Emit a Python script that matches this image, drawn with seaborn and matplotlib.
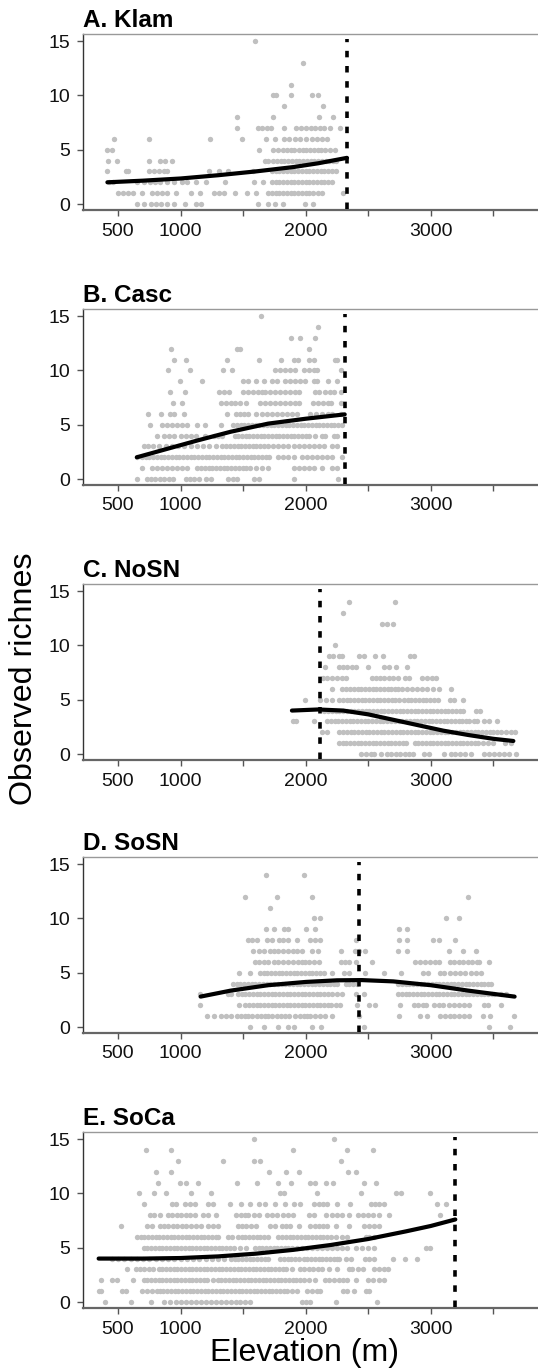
import matplotlib
matplotlib.use("Agg")
import matplotlib.pyplot as plt
import seaborn as sns
import pandas as pd
from matplotlib.transforms import Bbox, TransformedBbox

# observed richness -> elevations (m) of the sites
klam_pts = [
    (15, [1593]),
    (13, [1976]),
    (11, [1881]),
    (10, [1741, 1760, 1884, 2051, 2097]),
    (9, [1825, 2137]),
    (8, [1447, 1741, 2108, 2215]),
    (7, [1449, 1618, 1652, 1688, 1722, 1826, 1922, 1961, 2000, 2039, 2078, 2117, 2143, 2195, 2273]),
    (6, [471, 747, 1233, 1488, 1683, 1751, 1829, 1870, 1912, 1953, 2000, 2052, 2091, 2130, 2174]),
    (5, [414, 453, 1628, 1740, 1779, 1818, 1850, 1880, 1910, 1945, 1975, 2005, 2035, 2065, 2095, 2125,
         2156, 2195, 2234]),
    (4, [421, 488, 744, 833, 879, 933, 1674, 1701, 1741, 1770, 1800, 1830, 1860, 1890, 1920, 1950, 1980,
         2010, 2040, 2070, 2100, 2130, 2160, 2190, 2220, 2240]),
    (3, [415, 563, 582, 744, 784, 830, 865, 892, 1229, 1310, 1377, 1579, 1728, 1760, 1790, 1820, 1850,
         1880, 1910, 1940, 1970, 2000, 2030, 2060, 2090, 2120, 2150, 2180, 2210, 2240]),
    (2, [430, 460, 650, 704, 752, 792, 833, 892, 946, 1013, 1049, 1121, 1202, 1358, 1585, 1660, 1728,
         1760, 1790, 1820, 1850, 1880, 1910, 1940, 1970, 2000, 2030, 2060, 2090, 2120, 2150, 2180, 2213]),
    (1, [501, 542, 582, 623, 690, 771, 811, 852, 892, 960, 1081, 1154, 1269, 1310, 1350, 1431, 1534,
         1601, 1701, 1730, 1760, 1790, 1820, 1850, 1880, 1910, 1940, 1970, 2000, 2030, 2060, 2100, 2132,
         2299]),
    (0, [655, 709, 763, 806, 846, 892, 946, 1035, 1121, 1162, 1620, 1701, 1755, 1822, 1992, 2057]),
]

casc_pts = [
    (15, [1641]),
    (14, [2100]),
    (13, [1884, 1951, 2073]),
    (12, [927, 1453, 1472, 2029]),
    (11, [946, 1046, 1372, 1628, 1800, 1903, 1938, 2029, 2065, 2234, 2253]),
    (10, [900, 1073, 1337, 1412, 1755, 1795, 1835, 1876, 1911, 1984, 2024, 2065, 2091, 2280]),
    (9, [992, 1175, 1499, 1539, 1606, 1666, 1733, 1768, 1835, 1876, 1916, 1957, 1997, 2065, 2091, 2180,
         2253]),
    (8, [913, 1035, 1310, 1350, 1391, 1499, 1539, 1579, 1620, 1647, 1674, 1714, 1755, 1795, 1835, 1876,
         1916, 1943, 2073, 2110, 2153, 2194, 2226, 2280]),
    (7, [938, 1013, 1323, 1364, 1404, 1431, 1472, 1526, 1633, 1674, 1714, 1755, 1795, 1835, 1876, 1916,
         1943, 2059, 2100, 2140, 2180, 2200, 2280]),
    (6, [739, 846, 913, 946, 1027, 1372, 1439, 1472, 1507, 1539, 1606, 1647, 1687, 1728, 1768, 1808, 1849,
         1889, 1930, 2038, 2083, 2132, 2180, 2213, 2280]),
    (5, [752, 852, 892, 933, 973, 1013, 1054, 1135, 1194, 1323, 1418, 1450, 1480, 1510, 1540, 1570, 1600,
         1630, 1660, 1690, 1720, 1750, 1780, 1810, 1840, 1870, 1900, 1930, 1960, 1990, 2020, 2050, 2080,
         2110, 2140, 2170, 2200, 2230, 2260, 2294]),
    (4, [811, 865, 906, 946, 1000, 1040, 1081, 1121, 1194, 1269, 1300, 1330, 1431, 1460, 1490, 1520, 1550,
         1580, 1610, 1640, 1670, 1700, 1730, 1760, 1790, 1820, 1850, 1880, 1910, 1940, 1970, 2000, 2030,
         2078, 2132, 2153, 2226, 2253]),
    (3, [704, 739, 780, 830, 880, 930, 980, 1030, 1080, 1130, 1180, 1230, 1280, 1330, 1364, 1395, 1425,
         1455, 1485, 1515, 1545, 1575, 1605, 1635, 1665, 1695, 1741, 1781, 1822, 1862, 1903, 1943, 1984,
         2024, 2065, 2105, 2145, 2213, 2253]),
    (2, [650, 690, 720, 750, 780, 810, 840, 870, 900, 930, 960, 990, 1020, 1050, 1080, 1110, 1140, 1170,
         1200, 1230, 1260, 1290, 1320, 1350, 1380, 1410, 1440, 1470, 1500, 1530, 1560, 1590, 1620, 1650,
         1680, 1710, 1781, 1822, 1862, 1903, 1970, 2010, 2050, 2090, 2130, 2170, 2213, 2294]),
    (1, [690, 771, 811, 852, 892, 933, 973, 1013, 1054, 1135, 1165, 1195, 1225, 1255, 1285, 1315, 1345,
         1375, 1405, 1435, 1465, 1495, 1525, 1553, 1606, 1647, 1701, 1903, 1943, 1984, 2024, 2065, 2132,
         2213, 2253]),
    (0, [650, 730, 763, 798, 838, 871, 906, 941, 1040, 1073, 1108, 1148, 1202, 1243, 1377, 1418, 1453,
         1585, 1628, 1903, 2261]),
]

nosn_pts = [
    (14, [2348, 2717]),
    (13, [2299]),
    (12, [2609, 2649, 2698]),
    (10, [2234]),
    (9, [2186, 2218, 2267, 2294, 2423, 2469, 2558, 2617, 2833, 2865]),
    (8, [2153, 2267, 2299, 2334, 2369, 2401, 2496, 2630, 2663, 2725, 2806]),
    (7, [2140, 2172, 2213, 2253, 2294, 2321, 2531, 2563, 2595, 2630, 2665, 2698, 2738, 2792, 2825, 2927,
         2967, 3008, 3043]),
    (6, [2213, 2294, 2325, 2355, 2385, 2415, 2445, 2475, 2505, 2535, 2565, 2595, 2625, 2655, 2685, 2715,
         2738, 2773, 2811, 2846, 2887, 2927, 2967, 3021, 3062, 3161]),
    (5, [1997, 2118, 2164, 2213, 2267, 2297, 2327, 2357, 2387, 2417, 2447, 2477, 2507, 2537, 2567, 2597,
         2627, 2657, 2687, 2717, 2747, 2785, 2815, 2845, 2875, 2905, 2935, 2965, 2995, 3025, 3055, 3154,
         3188, 3261]),
    (4, [2150, 2180, 2210, 2240, 2270, 2300, 2330, 2360, 2390, 2420, 2450, 2480, 2510, 2540, 2570, 2600,
         2630, 2660, 2690, 2720, 2750, 2780, 2810, 2840, 2870, 2900, 2930, 2960, 2990, 3020, 3050, 3080,
         3110, 3140, 3170, 3200, 3230, 3260, 3358, 3393]),
    (3, [1895, 1922, 2065, 2172, 2202, 2232, 2262, 2292, 2322, 2352, 2382, 2412, 2442, 2472, 2502, 2532,
         2562, 2592, 2622, 2652, 2682, 2712, 2742, 2772, 2802, 2832, 2862, 2892, 2922, 2952, 2982, 3012,
         3042, 3072, 3102, 3132, 3162, 3192, 3222, 3252, 3282, 3304, 3345, 3371, 3425, 3466, 3533]),
    (2, [2130, 2172, 2270, 2300, 2330, 2360, 2390, 2420, 2450, 2480, 2510, 2540, 2570, 2600, 2630, 2660,
         2690, 2720, 2750, 2780, 2810, 2840, 2870, 2900, 2930, 2960, 2990, 3020, 3050, 3080, 3110, 3140,
         3170, 3200, 3230, 3260, 3290, 3320, 3350, 3380, 3410, 3440, 3470, 3500, 3530, 3560, 3600, 3640,
         3670]),
    (1, [2265, 2295, 2325, 2355, 2385, 2415, 2445, 2475, 2505, 2535, 2565, 2595, 2625, 2655, 2685, 2715,
         2745, 2775, 2805, 2870, 2900, 2930, 2960, 2990, 3020, 3050, 3080, 3110, 3140, 3170, 3200, 3230,
         3260, 3290, 3320, 3350, 3380, 3420, 3460, 3500, 3590, 3640]),
    (0, [2442, 2482, 2523, 2550, 2604, 2649, 2684, 2725, 2757, 2792, 2827, 2860, 2946, 2989, 3102, 3161,
         3196, 3237, 3277, 3318, 3425, 3466, 3506, 3546, 3587, 3627, 3681]),
]

sosn_pts = [
    (14, [1682, 1984]),
    (12, [1515, 1768, 2048, 3296]),
    (11, [1718]),
    (10, [2066, 2113, 3124, 3228]),
    (9, [1685, 1746, 1829, 1856, 2006, 2073, 2744, 2807]),
    (8, [1539, 1572, 1607, 1687, 1728, 1787, 1822, 1862, 1930, 2038, 2078, 2118, 2399, 2744, 2806, 3021,
         3062, 3191]),
    (7, [1579, 1625, 1668, 1714, 1749, 1782, 1822, 1857, 1895, 1930, 1970, 2051, 2100, 2283, 2396, 2423,
         2474, 2738, 2806, 3148, 3256, 3364]),
    (6, [1593, 1628, 1663, 1701, 1749, 1782, 1822, 1857, 1895, 1935, 1970, 1997, 2029, 2065, 2105, 2280,
         2315, 2348, 2401, 2528, 2873, 2913, 2954, 2994, 3035, 3064, 3156, 3188, 3223, 3258, 3296, 3331,
         3366, 3385, 3466]),
    (5, [1464, 1553, 1633, 1663, 1693, 1723, 1753, 1783, 1813, 1843, 1873, 1903, 1933, 1963, 1993, 2023,
         2053, 2083, 2118, 2145, 2213, 2307, 2348, 2474, 2630, 2765, 2935, 2981, 3070, 3105, 3156, 3196,
         3237, 3277, 3318, 3358, 3399]),
    (4, [1418, 1448, 1478, 1508, 1538, 1568, 1598, 1628, 1658, 1688, 1718, 1748, 1778, 1808, 1838, 1868,
         1898, 1928, 1958, 1988, 2018, 2048, 2078, 2108, 2138, 2168, 2198, 2228, 2253, 2320, 2350, 2380,
         2410, 2738, 2768, 2798, 2828, 2858, 2888, 2918, 2948, 2978, 3008, 3038, 3068, 3098, 3128, 3158,
         3188, 3218, 3248, 3278, 3308, 3338, 3368, 3398, 3428, 3458, 3479]),
    (3, [1156, 1377, 1404, 1458, 1488, 1518, 1548, 1578, 1608, 1638, 1668, 1698, 1728, 1758, 1788, 1818,
         1848, 1878, 1908, 1938, 1968, 1998, 2028, 2058, 2088, 2118, 2148, 2178, 2213, 2253, 2288, 2401,
         2469, 2738, 2768, 2798, 2828, 2858, 2888, 2918, 2948, 2978, 3008, 3038, 3068, 3098, 3128, 3158,
         3188, 3218, 3248, 3278, 3308, 3338, 3368, 3398, 3428, 3458, 3488, 3506, 3560, 3600]),
    (2, [1156, 1464, 1517, 1547, 1577, 1607, 1637, 1667, 1697, 1727, 1757, 1787, 1817, 1847, 1877, 1907,
         1937, 1967, 1997, 2027, 2057, 2087, 2117, 2147, 2177, 2199, 2240, 2272, 2409, 2504, 2558, 2752,
         2865, 2900, 2935, 2962, 3027, 3062, 3097, 3143, 3183, 3223, 3264, 3304, 3425, 3458, 3560]),
    (1, [1210, 1269, 1323, 1364, 1404, 1453, 1485, 1512, 1539, 1572, 1607, 1641, 1674, 1701, 1733, 1768,
         1803, 1835, 1870, 1916, 1951, 1986, 2011, 2038, 2078, 2118, 2153, 2213, 2428, 2747, 2913, 2973,
         3075, 3116, 3156, 3188, 3223, 3264, 3304, 3420, 3474, 3668]),
    (0, [1553, 1666, 1776, 1862, 1903, 2051, 2126, 2469, 3469, 3636]),
]

soca_pts = [
    (15, [1585, 2226]),
    (14, [722, 927, 1897, 2334, 2536]),
    (13, [978, 1337, 1588, 1633, 2286]),
    (12, [806, 927, 1706, 1841, 1943, 2339, 2401]),
    (11, [817, 992, 1040, 1140, 1447, 1614, 1782, 1884, 2038, 2078, 2164, 2218, 2469, 2563]),
    (10, [671, 790, 884, 1081, 1243, 1795, 1830, 2091, 2442, 2725, 2760, 2994]),
    (9, [704, 933, 960, 1035, 1075, 1113, 1221, 1261, 1399, 1480, 1552, 1625, 1674, 1755, 1835, 1908,
         1951, 2070, 2105, 2140, 2172, 2253, 2356, 2523, 2558, 2590, 2625, 3048, 3124]),
    (8, [757, 790, 838, 898, 933, 968, 1000, 1040, 1075, 1116, 1181, 1221, 1283, 1445, 1480, 1512, 1539,
         1588, 1628, 1687, 1728, 1768, 1817, 1857, 1897, 2024, 2065, 2164, 2207, 2248, 2288, 2348, 2415,
         2455, 2496, 2536, 2590, 2663, 3070]),
    (7, [520, 730, 771, 833, 865, 900, 938, 973, 1013, 1040, 1081, 1127, 1167, 1216, 1256, 1296, 1458,
         1491, 1526, 1561, 1606, 1714, 1755, 1808, 1843, 1876, 1943, 2038, 2073, 2105, 2140, 2172, 2240,
         2348, 2469, 2509, 2550, 2590]),
    (6, [650, 680, 710, 740, 770, 800, 830, 860, 890, 920, 950, 980, 1010, 1040, 1070, 1100, 1130, 1160,
         1190, 1220, 1250, 1280, 1296, 1377, 1412, 1458, 1488, 1518, 1548, 1578, 1608, 1638, 1668, 1701,
         1782, 1812, 1842, 1872, 1902, 1932, 1962, 1992, 2022, 2052, 2082, 2112, 2142, 2172, 2202, 2240,
         2290, 2330, 2482, 2509, 2550]),
    (5, [704, 734, 764, 794, 824, 854, 884, 914, 944, 974, 1004, 1034, 1064, 1094, 1124, 1154, 1184, 1214,
         1244, 1274, 1304, 1334, 1364, 1394, 1424, 1472, 1526, 1593, 1623, 1653, 1683, 1713, 1743, 1773,
         1803, 1833, 1862, 1889, 1929, 1969, 2010, 2050, 2091, 2132, 2172, 2213, 2253, 2294, 2334, 2401,
         2450, 2500, 2550, 2962, 2994]),
    (4, [450, 500, 550, 600, 650, 700, 750, 800, 850, 900, 950, 1000, 1050, 1100, 1150, 1200, 1250, 1300,
         1350, 1400, 1431, 1461, 1491, 1521, 1551, 1581, 1611, 1641, 1671, 1701, 1795, 1825, 1855, 1885,
         1915, 1943, 1984, 2014, 2044, 2074, 2104, 2134, 2164, 2194, 2224, 2254, 2267, 2321, 2361, 2477,
         2509, 2550, 2698, 2792, 2887]),
    (3, [569, 644, 677, 709, 744, 779, 825, 855, 885, 915, 945, 975, 1005, 1035, 1065, 1095, 1125, 1155,
         1185, 1215, 1245, 1275, 1305, 1335, 1365, 1395, 1425, 1455, 1485, 1515, 1545, 1575, 1605, 1635,
         1665, 1695, 1725, 1755, 1785, 1815, 1845, 1889, 1957, 1990, 2024, 2060, 2095, 2130, 2186, 2253,
         2348, 2374, 2415, 2455, 2550, 2590, 2625, 2657]),
    (2, [367, 448, 488, 623, 704, 734, 764, 794, 824, 854, 884, 914, 944, 974, 1004, 1034, 1064, 1094,
         1124, 1154, 1184, 1214, 1256, 1296, 1326, 1356, 1386, 1416, 1446, 1476, 1506, 1536, 1566, 1596,
         1626, 1656, 1686, 1716, 1746, 1776, 1806, 1836, 1866, 1896, 1926, 1956, 1986, 2024, 2078, 2153,
         2186, 2226, 2267, 2299, 2334, 2401, 2496, 2536, 2590, 2630]),
    (1, [345, 367, 528, 563, 690, 730, 771, 811, 833, 863, 893, 923, 953, 983, 1013, 1043, 1073, 1103,
         1133, 1163, 1193, 1223, 1253, 1283, 1313, 1343, 1373, 1403, 1433, 1463, 1493, 1523, 1553, 1583,
         1613, 1643, 1673, 1703, 1733, 1763, 1793, 1823, 1853, 1889, 1930, 2011, 2051, 2091, 2118, 2299,
         2334, 2388, 2482, 2509]),
    (0, [394, 601, 766, 865, 919, 960, 1000, 1040, 1081, 1121, 1162, 1202, 1243, 1283, 1323, 1364, 1404,
         1445, 1472, 1517, 1552, 1970, 2003, 2038, 2245, 2568]),
]

# fitted curves (elevation, predicted richness)
klam_fit_x = [415, 700, 1000, 1300, 1600, 1900, 2100, 2330]
klam_fit_y = [2.0, 2.15, 2.35, 2.65, 3.0, 3.4, 3.75, 4.25]
casc_fit_x = [650, 900, 1135, 1400, 1700, 2000, 2312]
casc_fit_y = [2.0, 2.8, 3.55, 4.35, 5.1, 5.55, 5.95]
nosn_fit_x = [1890, 2100, 2300, 2500, 2700, 2900, 3100, 3300, 3500, 3660]
nosn_fit_y = [4.0, 4.1, 4.0, 3.65, 3.15, 2.65, 2.15, 1.75, 1.4, 1.2]
sosn_fit_x = [1160, 1400, 1700, 2000, 2250, 2450, 2700, 3000, 3300, 3500, 3670]
sosn_fit_y = [2.8, 3.35, 3.85, 4.15, 4.3, 4.32, 4.2, 3.85, 3.35, 3.05, 2.8]
soca_fit_x = [345, 700, 1000, 1300, 1600, 1900, 2200, 2500, 2800, 3000, 3196]
soca_fit_y = [4.0, 4.0, 4.05, 4.2, 4.45, 4.8, 5.25, 5.8, 6.5, 7.0, 7.6]

titles = ["A. Klam", "B. Casc", "C. NoSN", "D. SoSN", "E. SoCa"]
thresholds = [2330, 2312, 2113, 2426, 3196]
xtick_vals = [500, 1000, 1500, 2000, 2500, 3000, 3500]
xtick_labels = ["500", "1000", "", "2000", "", "3000", ""]
ytick_vals = [0, 5, 10, 15]

panels = [
    (klam_pts, klam_fit_x, klam_fit_y),
    (casc_pts, casc_fit_x, casc_fit_y),
    (nosn_pts, nosn_fit_x, nosn_fit_y),
    (sosn_pts, sosn_fit_x, sosn_fit_y),
    (soca_pts, soca_fit_x, soca_fit_y),
]


def to_frame(rows):
    xs, ys = [], []
    for rich, elevs in rows:
        xs += elevs
        ys += [rich] * len(elevs)
    return pd.DataFrame({"elev": xs, "rich": ys})


sns.set_style("ticks")
plt.rcParams["font.family"] = ["Liberation Sans", "DejaVu Sans"]

W, H = 538, 1370
fig = plt.figure(figsize=(W / 100, H / 100), dpi=100)

tops = [34, 309, 584, 857, 1132]
ph = 176
for i, (pts, fx, fy) in enumerate(panels):
    ax = fig.add_axes([83 / W, 1 - (tops[i] + ph) / H, (W - 83) / W + 0.01, ph / H])
    df = to_frame(pts)
    sns.scatterplot(data=df, x="elev", y="rich", color="#c0c0c0", s=15, linewidth=0, ax=ax, zorder=2)
    sns.lineplot(x=fx, y=fy, color="black", lw=3, estimator=None, ax=ax, zorder=3)
    ax.vlines(thresholds[i], -0.5, 15.2, color="black", lw=2.6, linestyles=(0, (1.8, 2.4)),
              zorder=4)
    ax.set_xlim(220, 3900)
    ax.set_ylim(-0.55, 15.65)
    ax.set_xticks(xtick_vals)
    ax.set_xticklabels(xtick_labels)
    ax.set_yticks(ytick_vals)
    ax.tick_params(axis="both", labelsize=14, length=4, width=1, color="#555555",
                   labelcolor="#111111")
    ax.tick_params(axis="x", pad=5)
    ax.tick_params(axis="y", pad=5)
    ax.set_xlabel("")
    ax.set_ylabel("")
    ax.spines["right"].set_visible(False)
    ax.spines["top"].set_color("#999999")
    ax.spines["top"].set_linewidth(1.0)
    ax.spines["left"].set_color("#333333")
    ax.spines["left"].set_linewidth(1.0)
    ax.spines["bottom"].set_color("#666666")
    ax.spines["bottom"].set_linewidth(1.6)
    ax.set_title(titles[i], loc="left", fontsize=17.5, fontweight="bold", pad=5, color="black")

fig.text(305 / W, 1 - 1353 / H, "Elevation (m)", ha="center", va="center", fontsize=23,
         color="black")
yl = fig.text(24 / W, 1 - 671 / H, "Observed richness", rotation=90, ha="center", va="center",
              fontsize=23.2, color="black")
yl.set_clip_box(TransformedBbox(Bbox([[0, 0], [1, 1 - 553 / H]]), fig.transFigure))
yl.set_clip_on(True)

plt.savefig("out.png", dpi=100)
